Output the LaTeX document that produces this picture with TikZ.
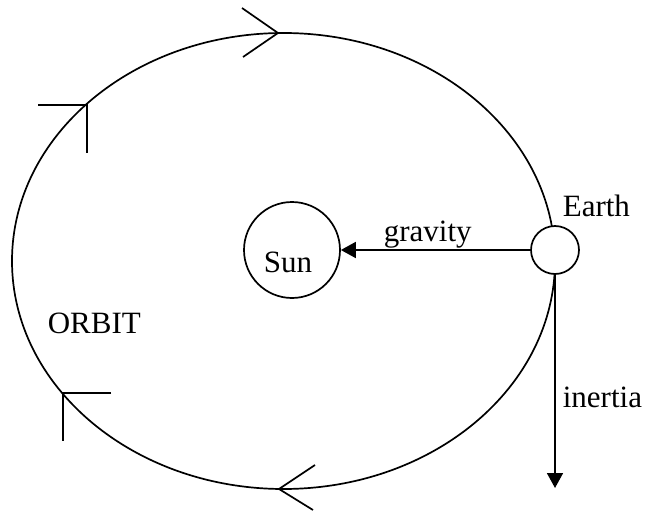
\documentclass[tikz,border=0pt]{standalone}
\usepackage{fontspec}
\setmainfont{Liberation Serif}
\usetikzlibrary{arrows.meta}
\begin{document}
\begin{tikzpicture}[x=1pt,y=-1pt,
  line width=1.7pt,
  body/.style={draw,circle,fill=white,inner sep=0pt},
  lbl/.style={font=\fontsize{31}{36}\selectfont,inner sep=0pt,anchor=base west},
  force/.style={-{Triangle[width=16pt,length=15pt]}},
  chev/.style={line width=1.7pt}]
\useasboundingbox (0,0) rectangle (646,511);
% orbit
\draw (283.5,261) ellipse [x radius=271.5, y radius=228];
% bodies
\node[body,minimum size=96pt] (sun) at (292,250) {};
\node[lbl] at (263,272) {Sun};
\node[body,minimum size=48pt] (earth) at (555,250) {};
% forces
\coordinate (inend) at (555,488);
\draw[force] (earth.west) -- (sun.east);
\draw[force] (earth.south) -- (inend);
% labels
\node[lbl] (gl) at (383,241) {gravity};
\node[lbl] (el) at (562,216) {Earth};
\node[lbl] (ol) at (47,333) {ORBIT};
\node[lbl] (il) at (562,407) {inertia};
% direction chevrons
\coordinate (c1) at (278,33);
\coordinate (c2) at (87,105);
\coordinate (c3) at (63,393);
\coordinate (c4) at (279,489);
\draw[chev] (242,8) -- (c1) -- (243,57);
\draw[chev] (38,105) -- (c2) -- (87,153);
\draw[chev] (111,393) -- (c3) -- (63,441);
\draw[chev] (315,465) -- (c4) -- (313,510);
\end{tikzpicture}
\end{document}
